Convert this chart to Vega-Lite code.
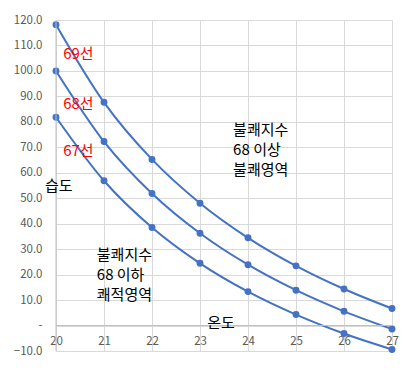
{
  "$schema": "https://vega.github.io/schema/vega-lite/v6.json",
  "width": 336,
  "height": 331,
  "autosize": {"type": "none"},
  "padding": {"left": 56, "top": 20, "right": 24, "bottom": 19},
  "background": "white",
  "config": {
    "view": {"stroke": null},
    "font": "Noto Sans CJK KR",
    "axis": {"gridColor": "#d9d9d9", "gridWidth": 1, "labelColor": "#595959", "labelFont": "Noto Sans CJK KR", "labelFontSize": 11.5, "labelOverlap": false, "labelFlush": false, "labelBound": false}
  },
  "datasets": {
    "lines": [
      {"series": "69", "temp": 20, "humidity": 118.18},
      {"series": "69", "temp": 21, "humidity": 87.67},
      {"series": "69", "temp": 22, "humidity": 65.24},
      {"series": "69", "temp": 23, "humidity": 48.05},
      {"series": "69", "temp": 24, "humidity": 34.46},
      {"series": "69", "temp": 25, "humidity": 23.44},
      {"series": "69", "temp": 26, "humidity": 14.34},
      {"series": "69", "temp": 27, "humidity": 6.68},
      {"series": "68", "temp": 20, "humidity": 100.0},
      {"series": "68", "temp": 21, "humidity": 72.26},
      {"series": "68", "temp": 22, "humidity": 51.87},
      {"series": "68", "temp": 23, "humidity": 36.25},
      {"series": "68", "temp": 24, "humidity": 23.89},
      {"series": "68", "temp": 25, "humidity": 13.88},
      {"series": "68", "temp": 26, "humidity": 5.59},
      {"series": "68", "temp": 27, "humidity": -1.37},
      {"series": "67", "temp": 20, "humidity": 81.82},
      {"series": "67", "temp": 21, "humidity": 56.86},
      {"series": "67", "temp": 22, "humidity": 38.5},
      {"series": "67", "temp": 23, "humidity": 24.44},
      {"series": "67", "temp": 24, "humidity": 13.32},
      {"series": "67", "temp": 25, "humidity": 4.31},
      {"series": "67", "temp": 26, "humidity": -3.15},
      {"series": "67", "temp": 27, "humidity": -9.41}
    ],
    "redLabels": [
      {"label": "69선", "temp": 20.15, "humidity": 106.8},
      {"label": "68선", "temp": 20.15, "humidity": 87.2},
      {"label": "67선", "temp": 20.15, "humidity": 68.7}
    ],
    "blackLabels": [
      {"label": "습도", "temp": 19.77, "humidity": 55.0},
      {"label": "불쾌지수", "temp": 23.69, "humidity": 76.8},
      {"label": "68 이상", "temp": 23.69, "humidity": 68.9},
      {"label": "불쾌영역", "temp": 23.69, "humidity": 61.1},
      {"label": "불쾌지수", "temp": 20.85, "humidity": 27.7},
      {"label": "68 이하", "temp": 20.85, "humidity": 19.8},
      {"label": "쾌적영역", "temp": 20.85, "humidity": 12.0},
      {"label": "온도", "temp": 23.15, "humidity": 1.0}
    ]
  },
  "layer": [
    {
      "data": {"name": "lines"},
      "mark": {"type": "line", "interpolate": "monotone", "color": "#4472C4", "strokeWidth": 2},
      "encoding": {
        "x": {"field": "temp", "type": "quantitative", "scale": {"domain": [20, 27], "nice": false, "zero": false},
          "axis": {"title": null, "values": [20, 21, 22, 23, 24, 25, 26, 27], "tickCount": 20, "format": "d", "grid": true, "domain": false, "ticks": false, "labels": true, "orient": "bottom", "offset": -25.5, "labelPadding": 10, "labelBaseline": "top"}},
        "y": {"field": "humidity", "type": "quantitative", "scale": {"domain": [-10, 120], "nice": false, "zero": false},
          "axis": {"title": null, "values": [-10, 0, 10, 20, 30, 40, 50, 60, 70, 80, 90, 100, 110, 120], "tickCount": 30, "grid": true, "domain": false, "ticks": false, "labelPadding": 14, "format": ".1f",
            "labelExpr": "datum.value == 0 ? '-' : datum.label"}},
        "detail": {"field": "series"}
      }
    },
    {
      "data": {"name": "lines"},
      "mark": {"type": "point", "filled": true, "color": "#4472C4", "size": 48, "opacity": 1},
      "encoding": {
        "x": {"field": "temp", "type": "quantitative"},
        "y": {"field": "humidity", "type": "quantitative"}
      }
    },
    {
      "data": {"values": [{"temp": 20, "humidity": 0}]},
      "mark": {"type": "rule", "color": "#bfbfbf", "strokeWidth": 1},
      "encoding": {
        "y": {"field": "humidity", "type": "quantitative"}
      }
    },
    {
      "data": {"values": [{"temp": 20}]},
      "mark": {"type": "rule", "color": "#bfbfbf", "strokeWidth": 1},
      "encoding": {
        "x": {"field": "temp", "type": "quantitative"}
      }
    },
    {
      "data": {"name": "redLabels"},
      "mark": {"type": "text", "color": "#ff0000", "fontSize": 15, "align": "left", "baseline": "middle"},
      "encoding": {
        "x": {"field": "temp", "type": "quantitative"},
        "y": {"field": "humidity", "type": "quantitative"},
        "text": {"field": "label"}
      }
    },
    {
      "data": {"name": "blackLabels"},
      "mark": {"type": "text", "color": "#000000", "fontSize": 15, "align": "left", "baseline": "middle"},
      "encoding": {
        "x": {"field": "temp", "type": "quantitative"},
        "y": {"field": "humidity", "type": "quantitative"},
        "text": {"field": "label"}
      }
    }
  ]
}
